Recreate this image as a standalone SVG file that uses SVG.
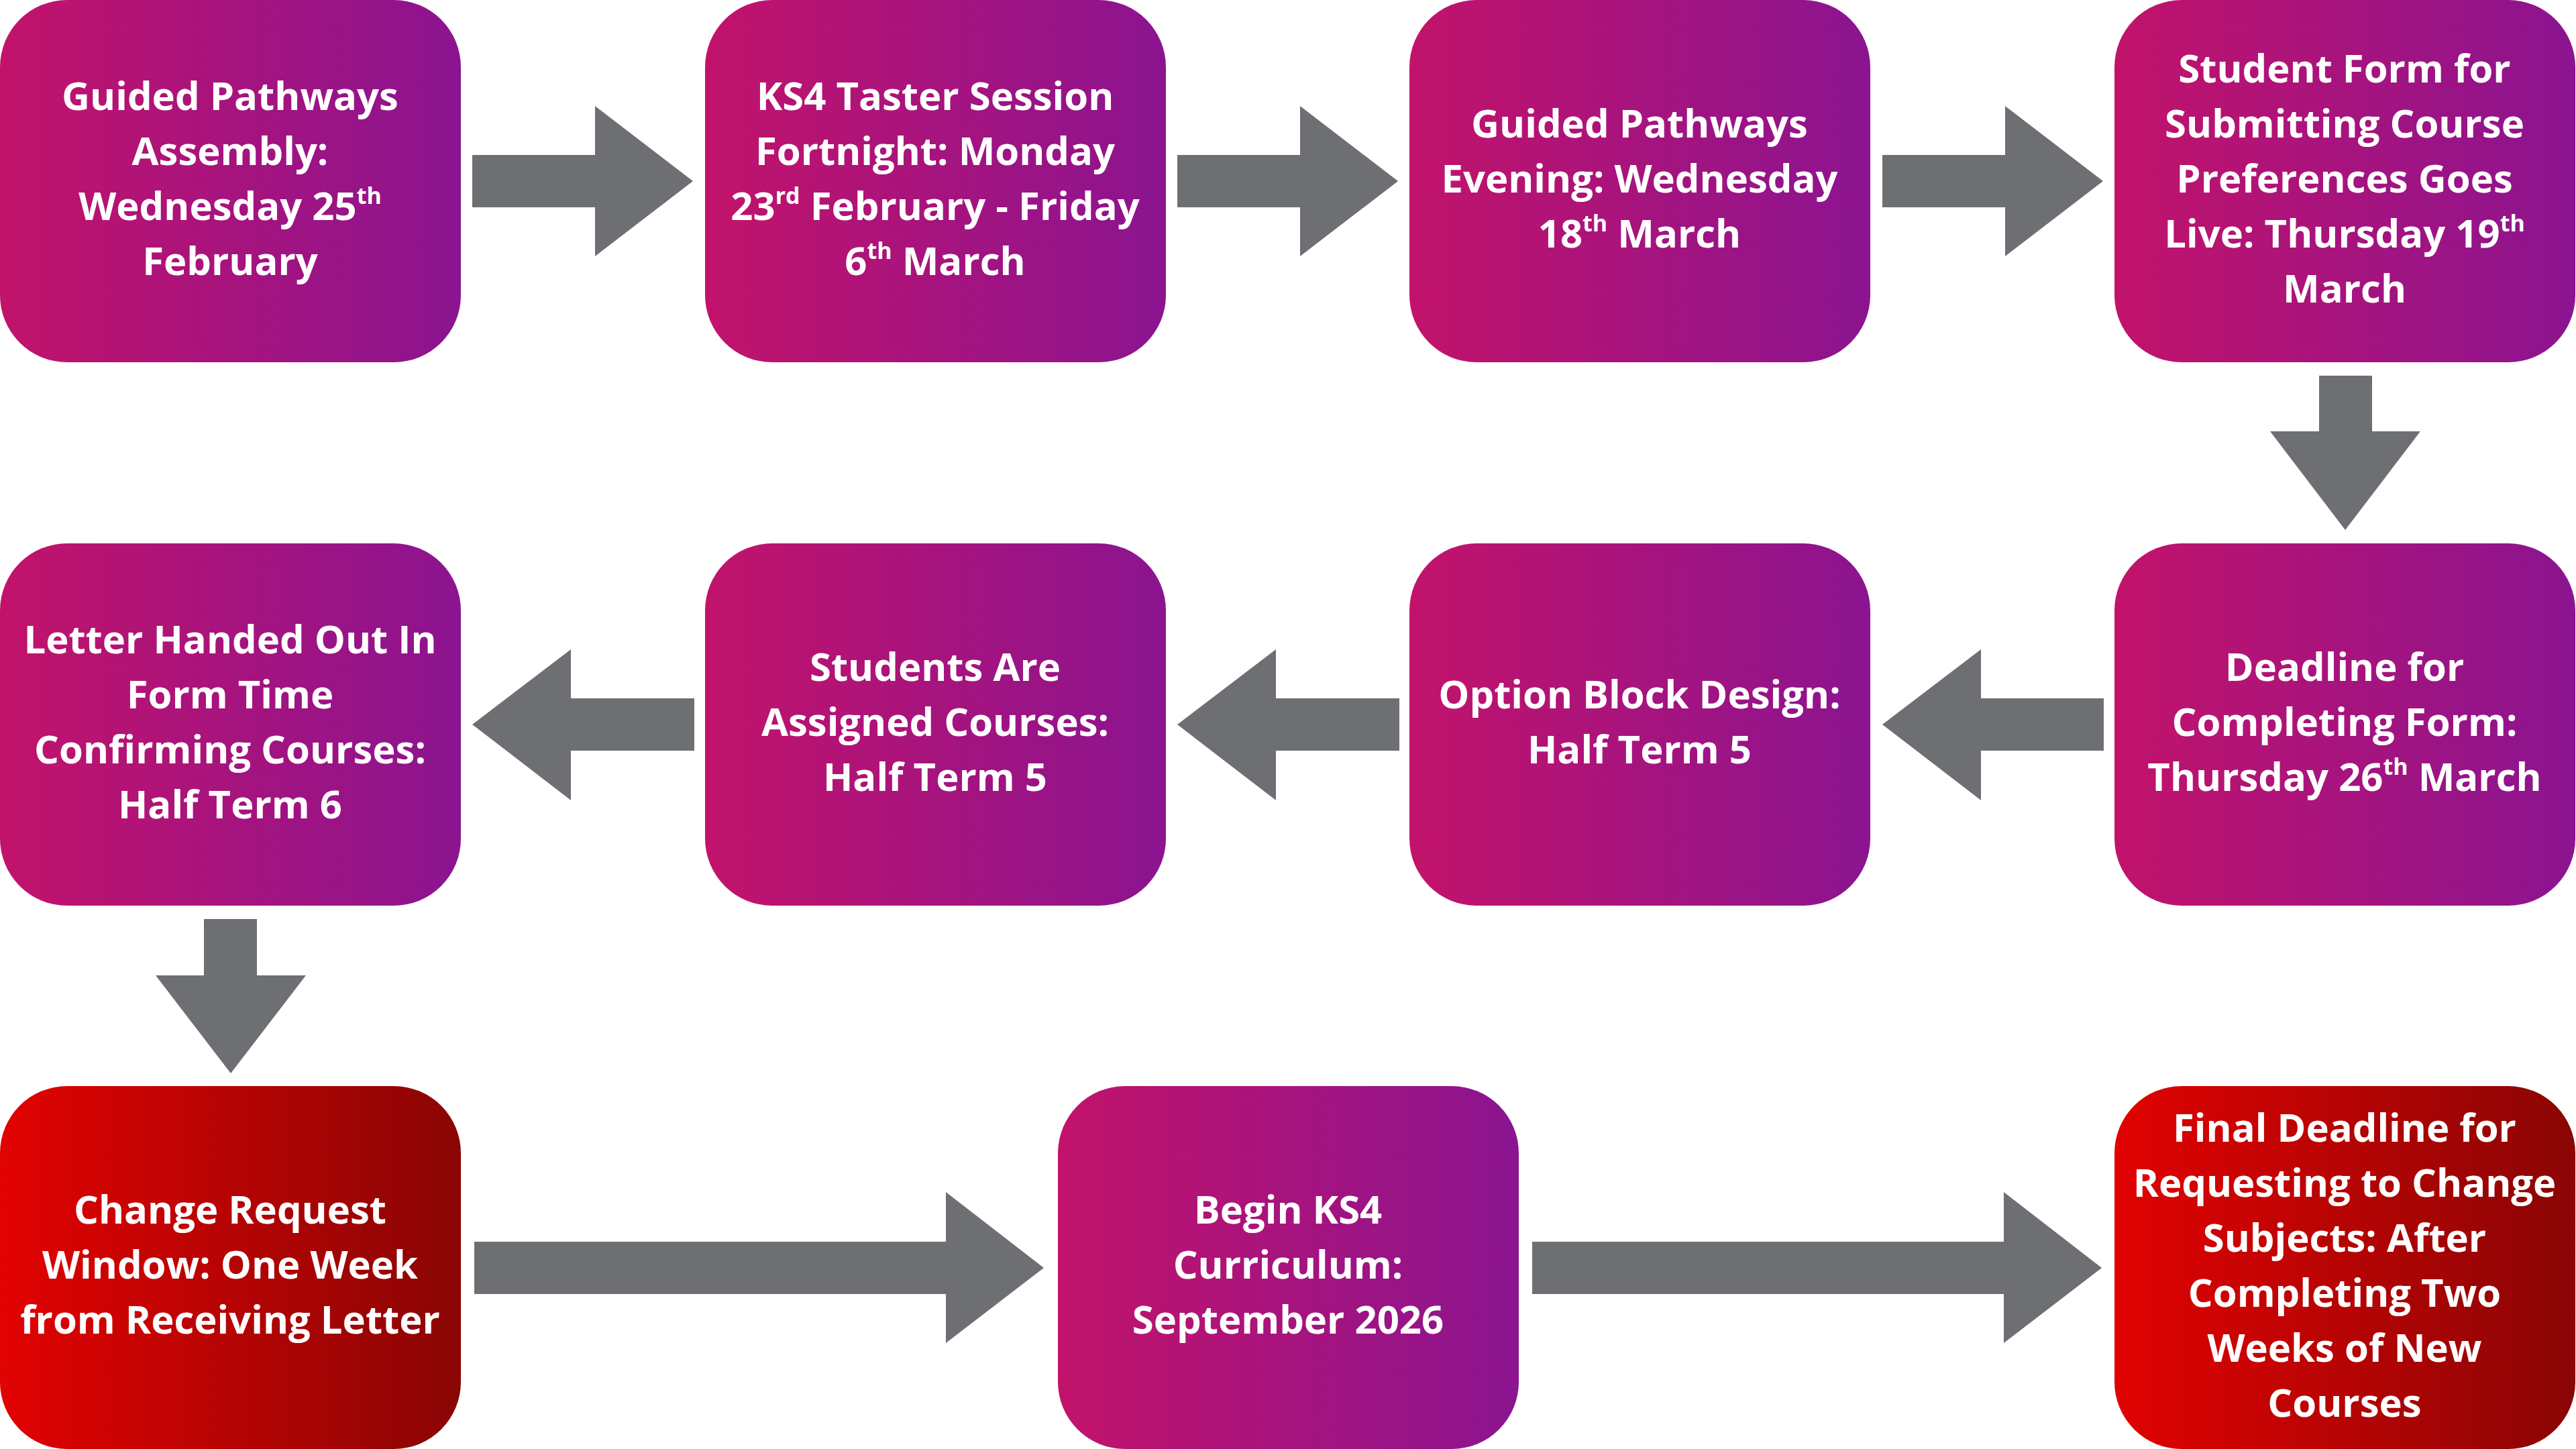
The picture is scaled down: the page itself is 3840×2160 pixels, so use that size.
<svg xmlns="http://www.w3.org/2000/svg" width="3840" height="2160" viewBox="0 0 3840 2160">
<defs>
<linearGradient id="gp" x1="0" y1="0" x2="1" y2="0">
<stop offset="0" stop-color="#C2136B"/>
<stop offset="1" stop-color="#8B1490"/>
</linearGradient>
<linearGradient id="gr" x1="0" y1="0" x2="1" y2="0">
<stop offset="0" stop-color="#E20202"/>
<stop offset="1" stop-color="#8A0505"/>
</linearGradient>
<style>
.p{fill:url(#gp)}
.r{fill:url(#gr)}
.t{font-family:"Open Sans","Liberation Sans",sans-serif;font-weight:700;font-size:58px;fill:#FFFFFF;text-anchor:middle}
.s{font-size:34px}
.a{fill:#6E6F73}
</style>
</defs>
<rect width="3840" height="2160" fill="#FFFFFF"/>
<g id="connectors">
<polygon class="a" points="704,231 887,231 887,158 1033,270 887,382 887,309 704,309"/>
<polygon class="a" points="1755,231 1938,231 1938,158 2084,270 1938,382 1938,309 1755,309"/>
<polygon class="a" points="2806,231 2989,231 2989,158 3135,270 2989,382 2989,309 2806,309"/>
<polygon class="a" points="3457,560 3536,560 3536,643 3608,643 3496,790 3384,643 3457,643"/>
<polygon class="a" points="3136,1041 2953,1041 2953,968 2806,1080 2953,1193 2953,1119 3136,1119"/>
<polygon class="a" points="2086,1041 1902,1041 1902,968 1755,1080 1902,1193 1902,1119 2086,1119"/>
<polygon class="a" points="1035,1041 851,1041 851,968 704,1080 851,1193 851,1119 1035,1119"/>
<polygon class="a" points="304,1370 383,1370 383,1454 456,1454 344,1600 232,1454 304,1454"/>
<polygon class="a" points="707,1851 1410,1851 1410,1777 1556,1890 1410,2002 1410,1929 707,1929"/>
<polygon class="a" points="2284,1851 2987,1851 2987,1777 3133,1890 2987,2002 2987,1929 2284,1929"/>
</g>
<g id="n1">
<rect class="p" x="0" y="0" width="687" height="540" rx="100"/>
<text class="t" x="343" y="164">Guided Pathways</text>
<text class="t" x="343" y="246">Assembly:</text>
<text class="t" x="343" y="328">Wednesday 25<tspan class="s" dy="-24">th</tspan></text>
<text class="t" x="343" y="410">February</text>
</g>
<g id="n2">
<rect class="p" x="1051" y="0" width="687" height="540" rx="100"/>
<text class="t" x="1394" y="164">KS4 Taster Session</text>
<text class="t" x="1394" y="246">Fortnight: Monday</text>
<text class="t" x="1394" y="328">23<tspan class="s" dy="-24">rd</tspan><tspan dy="24"> February - Friday</tspan></text>
<text class="t" x="1394" y="410">6<tspan class="s" dy="-24">th</tspan><tspan dy="24"> March</tspan></text>
</g>
<g id="n3">
<rect class="p" x="2101" y="0" width="687" height="540" rx="100"/>
<text class="t" x="2444" y="205">Guided Pathways</text>
<text class="t" x="2444" y="287">Evening: Wednesday</text>
<text class="t" x="2444" y="369">18<tspan class="s" dy="-24">th</tspan><tspan dy="24"> March</tspan></text>
</g>
<g id="n4">
<rect class="p" x="3152" y="0" width="687" height="540" rx="100"/>
<text class="t" x="3495" y="123">Student Form for</text>
<text class="t" x="3495" y="205">Submitting Course</text>
<text class="t" x="3495" y="287">Preferences Goes</text>
<text class="t" x="3495" y="369">Live: Thursday 19<tspan class="s" dy="-24">th</tspan></text>
<text class="t" x="3495" y="451">March</text>
</g>
<g id="n5">
<rect class="p" x="3152" y="810" width="687" height="540" rx="100"/>
<text class="t" x="3495" y="1015">Deadline for</text>
<text class="t" x="3495" y="1097">Completing Form:</text>
<text class="t" x="3495" y="1179">Thursday 26<tspan class="s" dy="-24">th</tspan><tspan dy="24"> March</tspan></text>
</g>
<g id="n6">
<rect class="p" x="2101" y="810" width="687" height="540" rx="100"/>
<text class="t" x="2444" y="1056">Option Block Design:</text>
<text class="t" x="2444" y="1138">Half Term 5</text>
</g>
<g id="n7">
<rect class="p" x="1051" y="810" width="687" height="540" rx="100"/>
<text class="t" x="1394" y="1015">Students Are</text>
<text class="t" x="1394" y="1097">Assigned Courses:</text>
<text class="t" x="1394" y="1179">Half Term 5</text>
</g>
<g id="n8">
<rect class="p" x="0" y="810" width="687" height="540" rx="100"/>
<text class="t" x="343" y="974">Letter Handed Out In</text>
<text class="t" x="343" y="1056">Form Time</text>
<text class="t" x="343" y="1138">Confirming Courses:</text>
<text class="t" x="343" y="1220">Half Term 6</text>
</g>
<g id="n9">
<rect class="r" x="0" y="1619" width="687" height="541" rx="100"/>
<text class="t" x="343" y="1824">Change Request</text>
<text class="t" x="343" y="1906">Window: One Week</text>
<text class="t" x="343" y="1988">from Receiving Letter</text>
</g>
<g id="n10">
<rect class="p" x="1577" y="1619" width="687" height="541" rx="100"/>
<text class="t" x="1920" y="1824">Begin KS4</text>
<text class="t" x="1920" y="1906">Curriculum:</text>
<text class="t" x="1920" y="1988">September 2026</text>
</g>
<g id="n11">
<rect class="r" x="3152" y="1619" width="687" height="541" rx="100"/>
<text class="t" x="3495" y="1702">Final Deadline for</text>
<text class="t" x="3495" y="1784">Requesting to Change</text>
<text class="t" x="3495" y="1866">Subjects: After</text>
<text class="t" x="3495" y="1948">Completing Two</text>
<text class="t" x="3495" y="2030">Weeks of New</text>
<text class="t" x="3495" y="2112">Courses</text>
</g>
</svg>
